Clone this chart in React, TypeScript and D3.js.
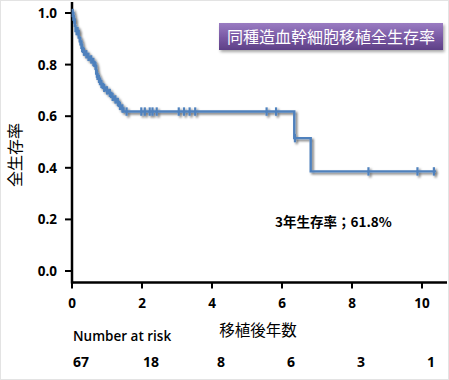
import React from "react";
import * as d3 from "d3";

// Kaplan-Meier step data (time in years, survival after event)
const deathTimes = [0.04, 0.08, 0.1, 0.19, 0.22, 0.27, 0.31, 0.38, 0.44, 0.52, 0.58, 0.64, 0.69, 0.73, 0.8, 0.88, 0.96, 1.04, 1.12, 1.2, 1.27, 1.34, 1.4, 1.47, 6.35, 6.82];
const survivalAfter = [0.975, 0.95, 0.93, 0.905, 0.89, 0.865, 0.85, 0.84, 0.83, 0.82, 0.81, 0.795, 0.765, 0.745, 0.725, 0.71, 0.7, 0.69, 0.675, 0.665, 0.655, 0.64, 0.63, 0.618, 0.515, 0.386];
const censorTimes = [0.02, 0.06, 0.13, 0.16, 0.24, 0.29, 0.34, 0.41, 0.47, 0.55, 0.61, 0.67, 0.71, 0.77, 0.84, 0.92, 1.0, 1.08, 1.16, 1.24, 1.31, 1.37, 1.44, 1.56, 1.98, 2.08, 2.22, 2.3, 2.42, 3.05, 3.2, 3.36, 3.52, 5.56, 5.83, 6.37, 8.47, 9.87, 10.34];
const endTime = 10.4;

const xTicks = [0, 2, 4, 6, 8, 10];
const yTicks = [0, 0.2, 0.4, 0.6, 0.8, 1.0];
const riskTimes = [0, 2, 4, 6, 8, 10];
const riskCounts = [67, 18, 8, 6, 3, 1];

const titleText = "同種造血幹細胞移植全生存率";
const xLabel = "移植後年数";
const yLabel = "全生存率";
const annotation = "3年生存率；61.8%";
const riskLabel = "Number at risk";

const W = 449;
const H = 380;

export default function App() {
  const x = d3.scaleLinear().domain([0, 10.7]).range([72, 446.5]);
  const y = d3.scaleLinear().domain([0, 1]).range([271, 13]);

  const survAt = (t: number) => {
    let s = 1;
    for (let i = 0; i < deathTimes.length; i++) {
      if (deathTimes[i] <= t) s = survivalAfter[i];
    }
    return s;
  };

  const pts: [number, number][] = [[0, 1]];
  let prev = 1;
  deathTimes.forEach((t, i) => {
    pts.push([t, prev]);
    pts.push([t, survivalAfter[i]]);
    prev = survivalAfter[i];
  });
  pts.push([endTime, prev]);
  const line = d3
    .line<[number, number]>()
    .x((d) => x(d[0]))
    .y((d) => y(d[1]));
  const pathD = line(pts) || "";

  const numFont = "'Open Sans', 'Noto Sans', sans-serif";
  const cjkFont = "'Noto Sans CJK JP', 'Noto Sans', sans-serif";
  const axisY = 282.5;
  const axisX = 72;
  const blue = "#4F81BD";

  return (
    <div style={{ position: "fixed", left: 0, top: 0, width: W, height: H }}>
      <svg width={W} height={H} viewBox={`0 0 ${W} ${H}`}>
        <defs>
          <filter id="shadow" x="-10%" y="-10%" width="130%" height="130%">
            <feDropShadow dx="1.8" dy="1.8" stdDeviation="1.2" floodColor="#000" floodOpacity="0.55" />
          </filter>
          <filter id="boxShadow" x="-10%" y="-20%" width="130%" height="160%">
            <feDropShadow dx="1.5" dy="2" stdDeviation="1.5" floodColor="#000" floodOpacity="0.35" />
          </filter>
          <linearGradient id="purple" x1="0" y1="0" x2="0" y2="1">
            <stop offset="0%" stopColor="#9A7CC2" />
            <stop offset="50%" stopColor="#7B5BA6" />
            <stop offset="100%" stopColor="#5E3F86" />
          </linearGradient>
        </defs>
        <rect x={0.5} y={0.5} width={W - 1} height={H - 1} fill="#fff" stroke="#e3e3e3" />

        {/* axes */}
        <line x1={axisX} y1={2} x2={axisX} y2={axisY + 1} stroke="#000" strokeWidth={2.5} />
        <line x1={axisX - 1} y1={axisY} x2={447} y2={axisY} stroke="#000" strokeWidth={2.5} />
        {yTicks.map((v) => (
          <g key={"y" + v}>
            <line x1={axisX - 7} x2={axisX} y1={y(v)} y2={y(v)} stroke="#000" strokeWidth={2} />
            <text x={57} y={y(v) + 5} textAnchor="end" fontFamily={numFont} fontWeight="bold" fontSize={13.5} fill="#000">
              {v.toFixed(1)}
            </text>
          </g>
        ))}
        {xTicks.map((v) => (
          <g key={"x" + v}>
            <line x1={x(v)} x2={x(v)} y1={axisY} y2={axisY + 6} stroke="#000" strokeWidth={2} />
            <text x={x(v)} y={308} textAnchor="middle" fontFamily={numFont} fontWeight="bold" fontSize={13.5} fill="#000">
              {v}
            </text>
          </g>
        ))}

        {/* axis titles */}
        <text
          transform={`translate(21, 155) rotate(-90)`}
          textAnchor="middle"
          fontFamily={cjkFont}
          fontSize={16}
          fill="#000"
        >
          {yLabel}
        </text>
        <text x={258} y={336} textAnchor="middle" fontFamily={cjkFont} fontSize={15.5} fill="#000">
          {xLabel}
        </text>

        {/* KM curve */}
        <g filter="url(#shadow)">
          <path d={pathD} fill="none" stroke={blue} strokeWidth={2.4} />
          {censorTimes.map((t, i) => (
            <line key={"c" + i} x1={x(t)} x2={x(t)} y1={y(survAt(t)) - 4.2} y2={y(survAt(t)) + 4.2} stroke={blue} strokeWidth={2.2} />
          ))}
        </g>

        {/* title box */}
        <g filter="url(#boxShadow)">
          <rect x={219} y={23} width={224} height={27} fill="url(#purple)" />
        </g>
        <text x={331} y={42.5} textAnchor="middle" fontFamily={cjkFont} fontSize={16} fill="#fff">
          {titleText}
        </text>

        {/* annotation */}
        <text x={275} y={227} fontFamily={cjkFont} fontWeight="bold" fontSize={13.5} fill="#000">
          {annotation}
        </text>

        {/* number at risk */}
        <text x={73} y={341} fontFamily={numFont} fontWeight={600} fontSize={13.5} fill="#000">
          {riskLabel}
        </text>
        {riskTimes.map((t, i) => (
          <text key={"r" + i} x={x(t) + 9} y={367} textAnchor="middle" fontFamily={numFont} fontWeight="bold" fontSize={14} fill="#000">
            {riskCounts[i]}
          </text>
        ))}
      </svg>
    </div>
  );
}
